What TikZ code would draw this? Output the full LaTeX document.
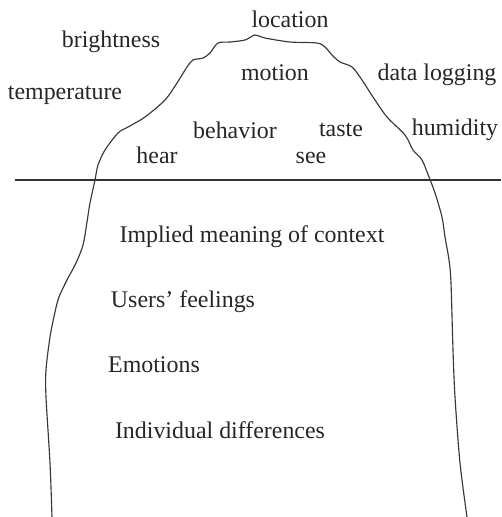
\documentclass[tikz,border=0pt]{standalone}
\usepackage{fontspec}
\setmainfont{Liberation Serif}
\begin{document}
\begin{tikzpicture}[x=1pt,y=-1pt,
  lbl/.style={font=\fontsize{23.9}{28}\selectfont, inner sep=0pt, text=black!85},
  berg/.style={draw=black!78, line width=1.15pt, line join=round, line cap=round},
  water/.style={draw=black!80, line width=1.8pt}]
\useasboundingbox (0,0) rectangle (501,517);
% waterline
\coordinate (wl) at (15,180);
\coordinate (wr) at (501,180);
\draw[water] (wl) -- (wr);
% iceberg outline
\draw[berg] plot[smooth, tension=0.5] coordinates {
  (52,517) (50,463) (46,397) (46,370) (50,337) (55,312) (59,297) (67,280)
  (76,263) (83,245) (87,222) (90,203) (95,180)
  (98,165) (105,150) (118,133) (128,127) (145,117) (165,100)
  (177,83) (187,67) (193,60) (203,58) (210,53) (218,43) (230,42) (245,40)
  (255,35) (265,38) (290,42) (317,43) (325,47) (332,55) (340,62) (352,67)
  (362,80) (373,97) (387,117) (405,135) (413,150) (422,160) (429,177)
  (435,193) (442,217) (445,237) (449,260) (451,283) (453,350) (455,397)
  (460,463) (467,517)};
% labels above the water
\node[lbl] (location) at (290,19) {location};
\node[lbl] (brightness) at (111,42) {brightness};
\node[lbl] (temperature) at (65,95) {temperature};
\node[lbl] (motion) at (275,73) {motion};
\node[lbl] (datalogging) at (437,75) {data logging};
\node[lbl] (behavior) at (235,130) {behavior};
\node[lbl] (taste) at (341,130) {taste};
\node[lbl] (humidity) at (455,130) {humidity};
\node[lbl] (hear) at (157,155) {hear};
\node[lbl] (see) at (311,158) {see};
% labels below the water
\node[lbl] (implied) at (252,237) {Implied meaning of context};
\node[lbl] (feelings) at (183,302) {Users’ feelings};
\node[lbl] (emotions) at (154,365) {Emotions};
\node[lbl] (individual) at (220,430) {Individual differences};
\end{tikzpicture}
\end{document}
